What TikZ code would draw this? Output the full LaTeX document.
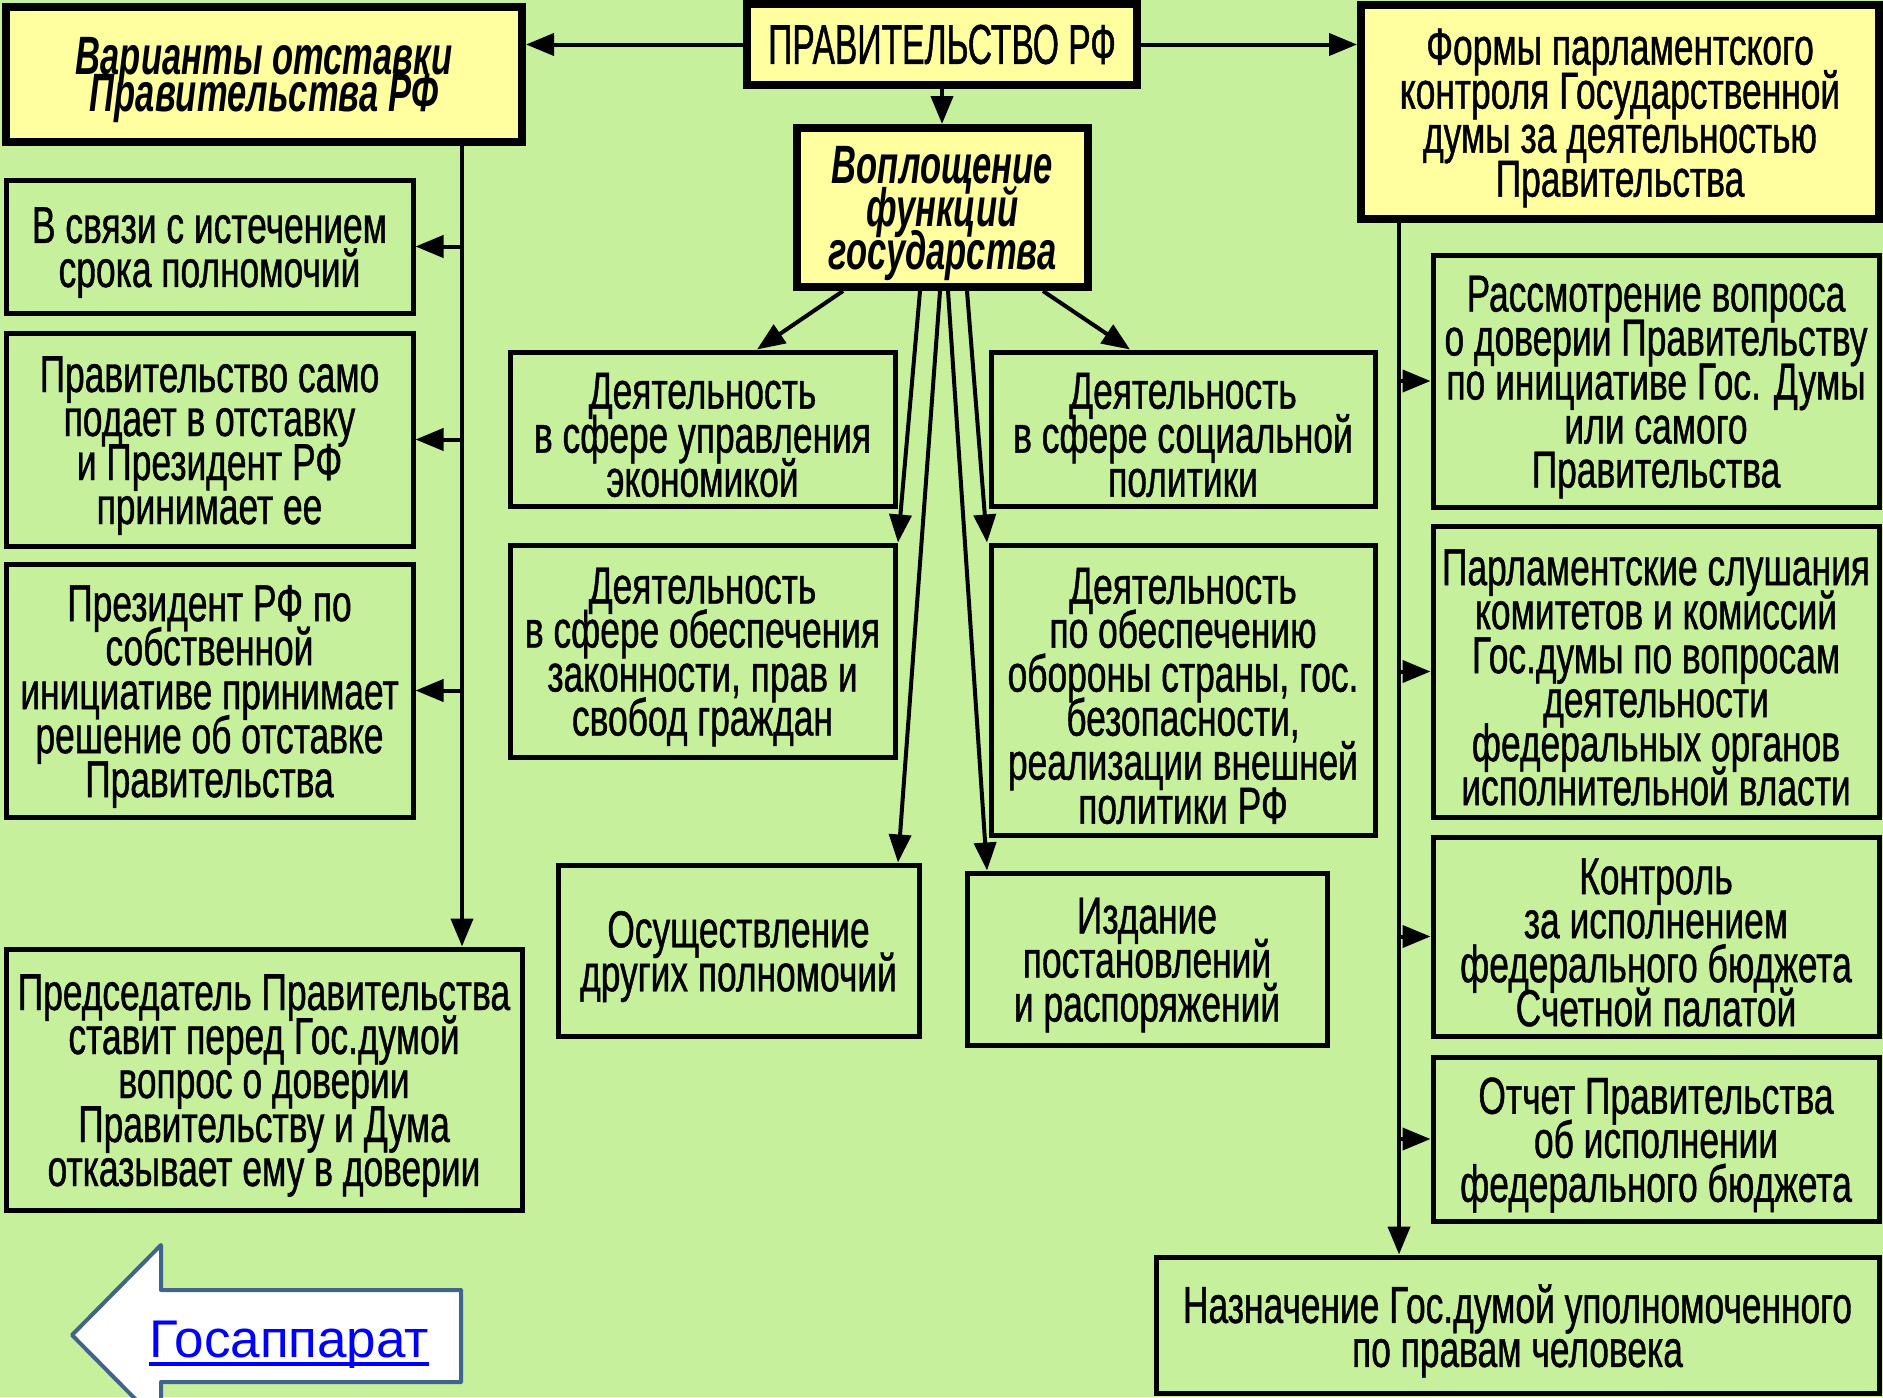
\documentclass[tikz,border=0pt]{standalone}
\usepackage{fontspec}
\setmainfont{Liberation Sans}[FakeStretch=0.68,FakeBold=0.8]
\newfontfamily\gfont{Liberation Sans}[FakeStretch=0.6,FakeBold=0.8]
\newfontfamily\vfont{Liberation Sans}[FakeStretch=0.64]
\newfontfamily\lfont{Liberation Sans}
\usetikzlibrary{arrows.meta,fit}
\definecolor{bgc}{RGB}{199,240,156}
\definecolor{ylw}{RGB}{255,255,160}
\definecolor{lnk}{RGB}{65,100,140}
\definecolor{linkblue}{RGB}{0,0,255}
\newcommand\tightlines{\lineskiplimit=-100pt\lineskip=0pt\relax}
\newcommand\bx[8]{%
  \node[#6, fit={(#2,#3) (#4,#5)}] (#1) {};
  \node[#7] (#1t) at (#1.center) {#8};}
\begin{document}
\begin{tikzpicture}[x=0.5pt,y=-0.5pt,
  gbox/.style={draw=black, line width=2.5pt, fill=bgc, inner sep=0pt},
  ybox/.style={draw=black, line width=4pt, fill=ylw, inner sep=0pt},
  txt/.style={align=center, inner sep=0pt, yshift=-3pt, font=\fontsize{26}{22}\selectfont\tightlines},
  gtxt/.style={align=center, inner sep=0pt, font=\gfont\fontsize{28}{21}\selectfont\tightlines},
  vtxt/.style={align=center, inner sep=0pt, yshift=-3pt, font=\vfont\bfseries\itshape\fontsize{27}{21.5}\selectfont\tightlines},
  wtxt/.style={align=center, inner sep=0pt, yshift=-3pt, font=\vfont\bfseries\itshape\fontsize{27}{18.5}\selectfont\tightlines},
  conn/.style={line width=2pt, draw=black},
  arr/.style={conn, -{Triangle[length=14pt,width=11pt]}},
]
\useasboundingbox (0,0) rectangle (1883,1397);
\fill[bgc] (0,0) rectangle (1883,1397);

% header boxes
\bx{gov}{747}{4}{1137}{85}{ybox}{gtxt}{ПРАВИТЕЛЬСТВО РФ}
\bx{var}{6}{7}{522}{142}{ybox}{wtxt}{Варианты отставки\\Правительства РФ}
\bx{forms}{1361}{5}{1879}{219}{ybox}{txt}{Формы парламентского\\контроля Государственной\\думы за деятельностью\\Правительства}
\bx{vop}{797}{128}{1088}{287}{ybox}{vtxt}{Воплощение\\функций\\государства}

% left column
\bx{L1}{6}{180}{413}{313}{gbox}{txt}{В связи с истечением\\срока полномочий}
\bx{L2}{6}{333}{413}{546}{gbox}{txt}{Правительство само\\подает в отставку\\и Президент РФ\\принимает ее}
\bx{L3}{6}{564}{413}{817}{gbox}{txt}{Президент РФ по\\собственной\\инициативе принимает\\решение об отставке\\Правительства}
\bx{L4}{6}{949}{522}{1210}{gbox}{txt}{Председатель Правительства\\ставит перед Гос.думой\\вопрос о доверии\\Правительству и Дума\\отказывает ему в доверии}

% middle
\bx{econ}{510}{352}{895}{506}{gbox}{txt}{Деятельность\\в сфере управления\\экономикой}
\bx{law}{510}{545}{895}{757}{gbox}{txt}{Деятельность\\в сфере обеспечения\\законности, прав и\\свобод граждан}
\bx{other}{558}{865}{919}{1036}{gbox}{txt}{Осуществление\\других полномочий}
\bx{social}{991}{352}{1375}{506}{gbox}{txt}{Деятельность\\в сфере социальной\\политики}
\bx{def}{991}{545}{1375}{835}{gbox}{txt}{Деятельность\\по обеспечению\\обороны страны, гос.\\безопасности,\\реализации внешней\\политики РФ}
\bx{izd}{967}{873}{1327}{1045}{gbox}{txt}{Издание\\постановлений\\и распоряжений}

% right column
\bx{R1}{1433}{255}{1879}{507}{gbox}{txt}{Рассмотрение вопроса\\о доверии Правительству\\по инициативе Гос. Думы\\или самого\\Правительства}
\bx{R2}{1433}{526}{1879}{817}{gbox}{txt}{Парламентские слушания\\комитетов и комиссий\\Гос.думы по вопросам\\деятельности\\федеральных органов\\исполнительной власти}
\bx{R3}{1433}{837}{1879}{1036}{gbox}{txt}{Контроль\\за исполнением\\федерального бюджета\\Счетной палатой}
\bx{R4}{1433}{1057}{1879}{1221}{gbox}{txt}{Отчет Правительства\\об исполнении\\федерального бюджета}
\bx{R5}{1156}{1257}{1879}{1393}{gbox}{txt}{Назначение Гос.думой уполномоченного\\по правам человека}

% helper x positions
\coordinate (lx) at (462,0);
\coordinate (rx) at (1399,0);
\coordinate (d1) at (843,0);
\coordinate (d2) at (757,0);
\coordinate (d3) at (1043,0);
\coordinate (d4) at (1130,0);
\coordinate (e1) at (920,0);
\coordinate (e2) at (898,0);
\coordinate (e3) at (940,0);
\coordinate (e4) at (948,0);
\coordinate (e5) at (987,0);
\coordinate (e6) at (967,0);

% connectors
\draw[arr] (gov.west) -- (gov.west -| var.east);
\draw[arr] (gov.east) -- (gov.east -| forms.west);
\draw[arr] (gov.south) -- (gov.south |- vop.north);
\draw[arr] (vop.south -| d1) -- (econ.north -| d2);
\draw[arr] (vop.south -| d3) -- (social.north -| d4);
\draw[arr] (vop.south -| e1) -- (law.north -| e2);
\draw[arr] (vop.south -| e3) -- (other.north -| e2);
\draw[arr] (vop.south -| e4) -- (izd.north -| e5);
\draw[arr] (vop.south -| e6) -- (def.north -| e5);

\draw[arr] (var.south -| lx) -- (L4.north -| lx);
\foreach \b in {L1,L2,L3} \draw[arr] (lx |- \b.east) -- (\b.east);

\draw[arr] (forms.south -| rx) -- (R5.north -| rx);
\foreach \b in {R1,R2,R3,R4} \draw[arr] (rx |- \b.west) -- (\b.west);

% back-link arrow
\begin{scope}
\clip (0,0) rectangle (1883,1397);
\draw[draw=lnk, fill=white, line width=2pt, line join=round]
  (72,1335) -- (161,1245) -- (161,1290) -- (461,1290) -- (461,1382)
  -- (161,1382) -- (161,1425) -- cycle;
\end{scope}
\node[font=\lfont\fontsize{26.5}{30}\selectfont, text=linkblue, anchor=base west, inner sep=0pt]
  (link) at (149,1357) {Госаппарат};
\draw[linkblue, line width=1.6pt] ([yshift=-3.5pt]link.base west) -- ([yshift=-3.5pt]link.base east);
\end{tikzpicture}
\end{document}
